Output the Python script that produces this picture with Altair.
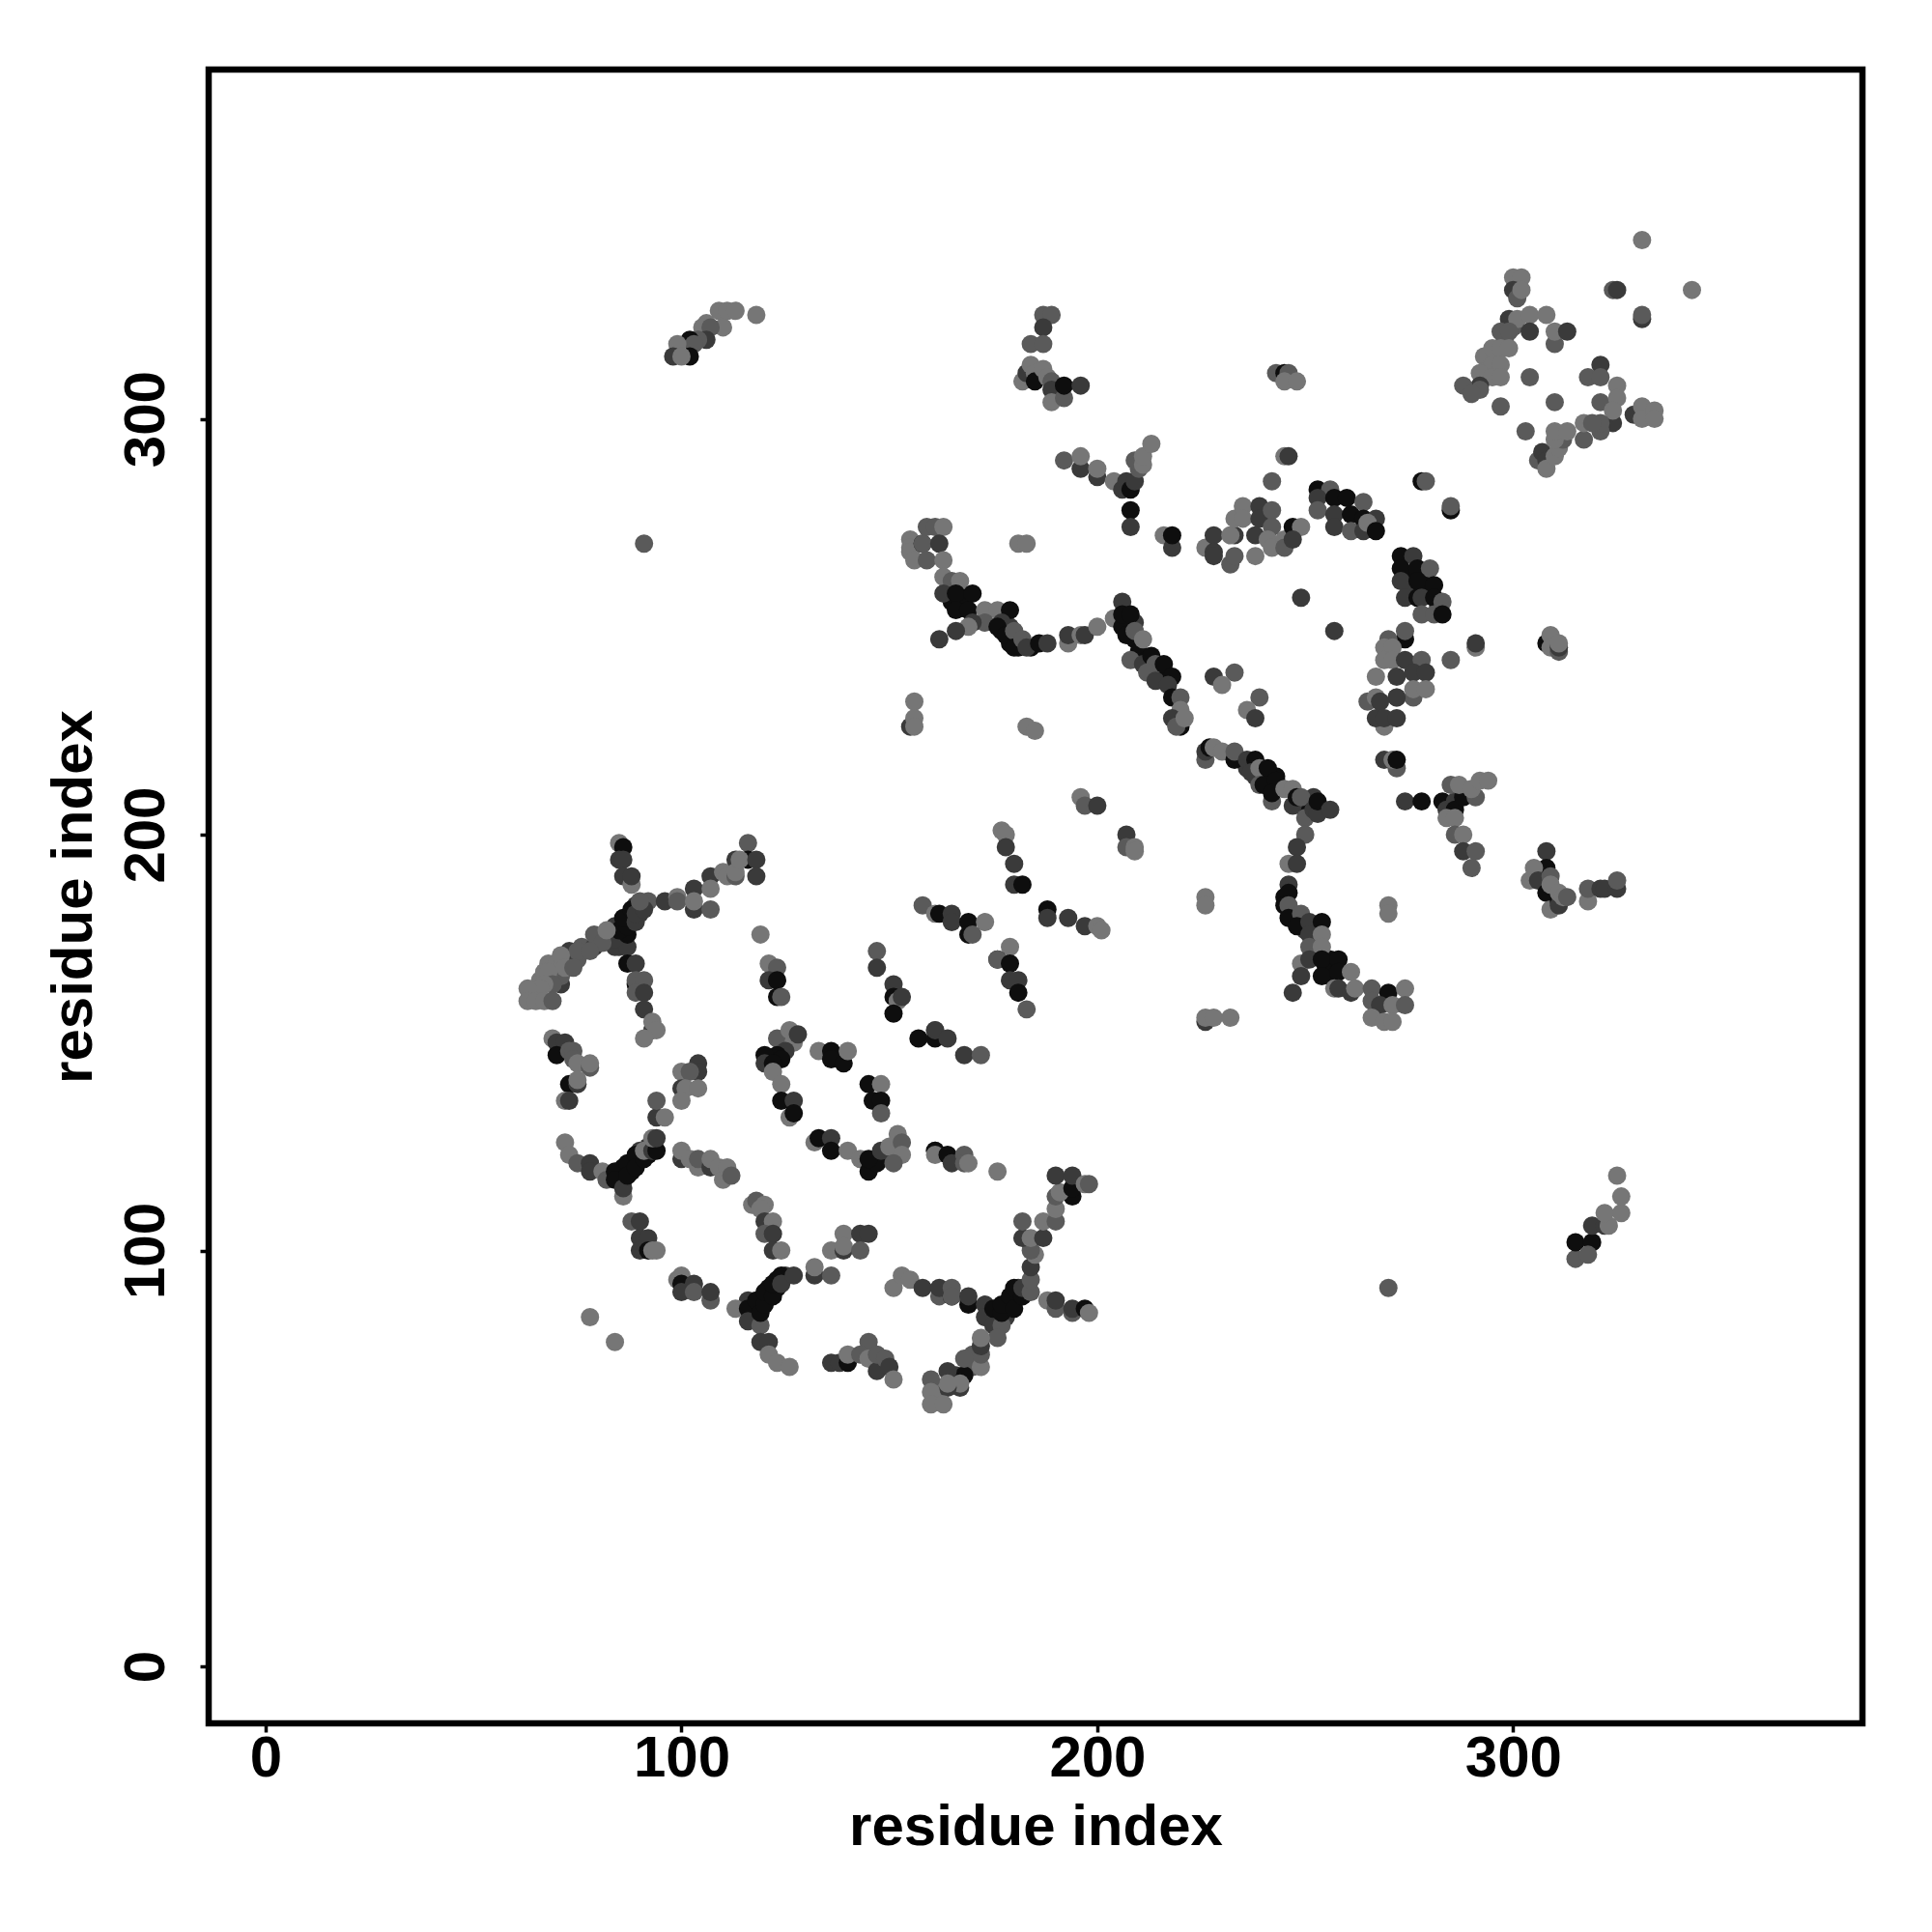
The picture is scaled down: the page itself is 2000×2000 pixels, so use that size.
import altair as alt
import pandas as pd

TONES = {1: "#767676", 2: "#5a5a5a", 3: "#3a3a3a", 4: "#0e0e0e"}
tick_values = [0, 100, 200, 300]

# (residue i, residue j, tone)
under_hub = [(85,175,4),(86,178,4),(87,180,4),(88,179,4),(89,183,3),(90,181,3),(84,178,3),(86,176,4),(85,173,3)]
under_v = [(117,85,4),(118,86,4),(119,88,4),(121,89,4),(121,91,4),(123,91,4),(123,93,4),(125,94,3),(116,88,3)]
under_arc = [(85,118,4),(86,120,4),(88,121,4),(88,119,4),(90,122,4),(90,124,3),(92,125,3),(92,123,4),(86,117,4)]
under_hub_right = [(176,85,4),(178,87,4),(179,86,4),(181,89,4),(181,91,3),(183,91,3),(178,84,3),(175,84,3),(174,85,4)]
under_band = [(165,256,4),(167,256,4),(168,257,4),(168,255,4),(177,249,4),(179,246,4),(181,245,4),(184,245,4),(179,250,3)]
under_chain = [(243,214,4),(241,213,3),(240,214,4),(242,212,3),(238,214,3),(236,216,3),(249,207,4),(251,207,4),(252,209,3)]
under_chain_down = [(255,168,4),(256,170,4),(256,166,4),(257,168,4),(245,185,4),(247,181,4),(249,179,4),(250,177,3),(252,178,4)]
under_dark_col = [(275,262,4),(279,258,4),(279,261,4),(275,259,3),(282,255,3)]
under_band_down = [(209,247,4),(210,244,4),(212,242,4),(213,240,4),(215,239,3),(216,237,4),(207,252,4),(209,251,3)]
under_light = [(64,161,1),(66,165,1),(68,169,1),(70,169,1),(75,170,2),(76,173,2),(293,315,1),(294,312,1),(296,315,1),(298,319,2),(300,322,2),
 (162,65,1),(162,67,1),(165,70,2),(170,72,2),(170,75,2),(166,70,3)]

core_upper_left = [(85,198,1),(86,197,4),(85,194,3),(86,194,3),(86,190,3),(88,188,1),(88,190,3),
 (92,184,2),(96,184,3),(99,185,1),(99,184,2),(103,187,3),(103,182,3),(103,184,1),(107,182,2),(107,190,3),(107,187,1),
 (110,191,1),(111,190,1),(113,194,3),(113,190,2),(113,191,1),(116,198,2),(116,194,4),(114,194,1),(118,194,3),(118,190,3)]
core_hub = [(84,173,3),(87,173,3),(83,177,3),(84,175,3),(87,176,4),(85,177,4),(87,178,4),(86,180,4),(89,179,3),
 (88,182,4),(89,181,3),(91,182,3),(90,184,2)]
core_down = [(87,169,4),(89,169,3),(89,164,4),(89,165,2),(91,165,2),(89,162,2),(91,162,3),(91,158,3),(93,153,3),(93,155,1),(94,153,1),(91,151,1)]
core_left = [(79,173,3),(79,176,2),(81,174,2),(82,177,1),(73,172,3),(75,172,2),(71,171,1),(78,172,2),(71,164,3),(71,166,2),(72,168,1),(74,168,2),
 (67,167,1),(68,167,1),(69,164,2),(67,164,1),(66,163,1),(63,163,1),(63,160,1),(65,160,1),(67,160,1),(69,160,2)]
left_small = [(69,151,1),(70,150,3),(72,150,3),(70,147,4),(73,148,2),(74,148,2),(74,146,2),(75,145,1),(78,144,2),(78,145,1),
 (73,140,4),(75,140,3),(75,141,1),(72,136,1),(73,136,3)]
left_mid = [(104,145,3),(104,143,3),(100,143,1),(102,143,2),(100,139,3),(101,139,1),(104,139,1),(100,136,1),(94,132,3),(94,136,2),(96,132,1)]
mid_a = [(119,176,1),(121,169,1),(123,168,2),(121,165,3),(123,165,4),(123,161,4),(124,161,2),
 (147,172,2),(147,168,3),(151,164,3),(151,161,4),(152,160,1),(153,161,3),(151,157,4),
 (157,151,4),(161,153,1),(161,151,4),(161,153,3),(164,151,3),(168,147,3),(172,147,2)]
mid_b = [(158,183,2),(161,181,1),(162,181,4),(165,181,3),(165,179,3),(169,179,4),(173,179,1),(169,176,4),(170,176,2),
 (177,201,1),(178,200,1),(178,197,3),(180,193,3),(180,188,3),(182,188,4),
 (188,182,4),(188,180,3),(193,180,3),(197,178,3),(200,178,1),(201,177,1),
 (207,200,3),(207,197,2),(209,197,1),(209,196,1),
 (179,173,1),(176,170,4),(176,170,2),(179,169,4),(179,165,3),(181,165,3),(181,162,4),(183,158,2)]
ring_top = [(123,151,2),(126,153,1),(127,150,1),(128,152,3),(125,148,3),(123,147,4),(120,147,4),(124,146,4),(120,145,3),(122,145,4),(122,143,1),(124,140,1),
 (124,136,4),(127,136,3),(126,132,1),(127,133,4),(133,148,1),(136,148,4),(136,146,4),(139,145,4),(140,148,1),
 (145,140,4),(148,140,1),(146,136,4),(148,136,4),(148,133,2)]
ring_bottom = [(132,126,1),(133,127,4),(136,127,3),(136,124,4),(140,124,1),(143,122,1),(149,123,3),(145,119,4),(147,121,4),(145,122,4),(148,124,3),(150,125,1),(152,128,1),(153,126,2),(153,123,1),(151,121,2)]
lower_arc = [(72,126,1),(73,123,1),(75,121,2),(78,121,3),(78,119,3),(81,119,1),(82,117,2),(86,113,1),(84,119,4),(84,117,4),(86,115,3),
 (87,121,4),(87,118,4),(89,123,4),(89,120,4),(91,122,4),(91,124,1),(93,124,3),(94,124,4),(93,127,1),(94,127,3)]
lower_mid = [(100,122,3),(100,124,1),(102,122,1),(104,120,1),(104,122,2),(107,120,3),(107,122,1),(109,120,1),(110,117,1),(111,120,1),(112,118,2),
 (117,111,1),(118,112,2),(120,111,1),(119,110,1),(120,107,3),(122,107,1),(120,104,2),(122,104,3),(122,100,3),(124,100,1),
 (88,107,2),(90,107,3),(90,103,3),(92,103,3),(90,100,3),(92,100,4),(93,100,1),(94,100,1)]
lower_low = [(99,93,1),(100,94,1),(100,92,4),(100,90,3),(103,92,3),(103,90,2),(107,88,2),(107,90,3),(113,86,1),
 (78,84,1),(84,78,1),(132,94,3),(132,96,1),(136,94,2),(139,104,1),(143,104,3),(145,104,3),(136,100,1),(139,100,3),(139,101,1),(143,100,2)]
v_left = [(116,86,4),(116,83,3),(118,88,4),(119,82,2),(119,85,4),(120,87,4),(120,90,4),(122,89,4),(122,92,4),(124,94,4),(124,92,3),(127,94,3),
 (119,78,3),(121,78,3),(121,75,1),(123,73,1),(126,72,1)]
bottom_row = [(136,73,3),(138,73,3),(140,73,4),(140,75,1),(145,78,2),(143,75,2),(145,74,1),(147,71,3),(147,75,2),(149,74,2),(150,72,3),(151,69,1)]
bottom_arm = [(151,91,1),(153,94,1),(155,93,1),(158,91,3),(162,89,2),(162,91,3),(165,89,4),(165,91,2),(165,89,2),(169,87,4),(169,89,3)]
hub_right = [(188,88,1),(190,86,2),(190,88,3),(194,85,2),(194,86,3),(197,86,4),(198,85,1),
 (173,87,3),(173,84,3),(175,82,3),(175,86,4),(177,82,2),(176,79,2),(177,85,4),(177,87,4),(179,89,4),(180,86,4),(180,91,4),(182,89,4),(182,91,3),
 (184,90,2),(184,93,2),(184,96,3),(185,99,1),(184,100,2)]
hub_up = [(182,103,3),(184,103,1),(187,103,3),(182,107,2),(187,107,1),(190,107,2),(190,110,1),(190,113,2),(194,113,4),(191,114,1),(190,118,3),(194,115,4),(194,118,3),(197,116,1),(198,116,2)]
hub_low = [(172,72,1),(172,75,2),(172,77,3),(172,79,1),(168,70,4),(168,74,2),(167,67,3),(167,68,1),(164,67,3),(164,71,3),(164,68,1),(160,69,2),(160,66,1),(160,63,1),(163,63,1)]
mid_row = [(161,124,2),(161,124,4),(161,123,1),(164,123,4),(165,121,3),(168,123,2),(168,121,2),(169,121,1),(176,119,1)]
top_left = [(118,325,1),(109,326,1),(111,326,1),(113,326,1),(110,322,1),(106,323,1),(105,322,1),(107,322,2),(106,319,3),(104,319,2),(102,319,4),(103,318,2),(99,318,1),(98,315,3),(102,315,4),(100,315,1)]
top_mid = [(187,325,2),(189,325,2),(187,322,3),(184,318,2),(187,318,2),
 (182,309,1),(183,311,3),(184,313,1),(185,311,1),(185,309,4),(187,312,1),(188,310,1),(189,309,2),(189,307,3),(189,304,1),(192,305,2),(192,308,4),(196,308,3)]
upper_row = [(192,290,2),(196,288,3),(196,291,1),(200,286,3),(200,288,1),(204,285,1),(206,283,3),(207,285,3),(208,283,4),(209,285,3),(210,288,2),(209,290,2),(211,289,1),(211,291,1),(213,294,1),(208,278,4),(208,274,3)]
band_left = [(155,271,1),(155,269,1),(155,268,1),(156,266,1),(158,270,4),(158,270,2),(159,266,2),(159,274,2),(161,274,2),(163,274,1),(162,270,3),(163,266,1),(181,270,1),(183,270,1),(216,272,1),(218,269,3),(218,272,4)]
band_main = [(163,262,1),(165,261,2),(167,261,1),(163,258,3),(166,258,4),(170,258,4),(166,254,4),(169,254,4),(173,254,1),(176,254,1),(179,254,4),(177,251,3),(173,251,2),(170,251,3),(169,250,1),(166,249,3),(162,247,3),
 (176,250,4),(178,248,4),(180,249,2),(180,245,4),(182,247,2),(183,245,3),(186,246,4),(188,246,3),
 (193,246,1),(193,248,3),(196,248,1),(197,248,3),(200,250,1)]
band_down = [(206,256,3),(204,252,1),(206,250,4),(206,253,4),(208,253,4),(207,248,4),(209,249,2),(211,247,1),(208,242,2),(211,241,3),(213,243,4),(214,241,2),(216,241,4),(212,239,2),(214,237,3),(218,238,4),(217,236,3),
 (218,233,4),(220,233,2),(220,230,1),(218,228,3),(220,226,4),(219,226,2),(221,228,1)]
scatter_a = [(228,238,3),(233,239,2),(230,236,1),(239,233,2),(236,230,1),(238,228,3),(156,232,1),(155,226,3),(156,228,1),(156,226,1),(183,226,1),(185,225,1),(196,209,1),(197,207,2),(200,207,3),
 (91,270,2),(270,91,2),(249,257,3),(257,249,3),(226,185,1),(226,183,1),(270,183,1),(270,181,1),(226,155,3),(226,156,1),(228,156,1),(232,156,1)]
mid_cluster = [(226,269,1),(228,272,3),(228,268,3),(228,267,3),(233,272,3),(232,272,1),(232,265,2),(233,267,2),(233,276,1),(235,279,1),(235,276,1),(239,279,3),(239,276,3),(242,278,2),
 (238,272,3),(242,274,2),(241,271,1),(242,269,1),(238,267,1),(245,271,1),(245,269,2),(247,274,4),(249,274,1),(247,271,3),(242,285,2),(245,291,1),(246,291,3),
 (243,311,2),(245,311,4),(246,311,2),(245,309,1),(248,309,1)]
dark_box = [(253,283,4),(256,283,2),(253,281,3),(253,278,2),(257,281,4),(260,281,4),(257,277,3),(261,277,4),(257,274,3),(261,273,2),(264,280,2),(264,276,4),(267,276,3),(264,273,3),(265,275,1),(267,273,4),
 (278,285,4),(279,285,2),(285,278,4),(285,279,2)]
dark_col = [(273,267,4),(276,267,3),(273,264,4),(273,261,3),(277,264,4),(280,264,2),(277,261,4),(281,260,4),(274,257,3),(277,257,4),(278,257,3),(281,257,4),(283,256,2),(278,253,2),(281,253,2),(283,253,4)]
right_cluster = [(274,247,4),(274,249,2),(270,247,2),(269,245,1),(271,245,1),(269,242,1),(271,242,1),(272,238,3),(274,242,3),(278,242,2),(276,239,3),(279,239,3),(267,238,1),
 (276,233,2),(276,235,1),(279,235,1),(272,233,1),(272,233,3),(265,232,2),(267,233,1),(268,232,3),(269,226,1),(267,228,3),(269,228,3),(272,228,3),
 (285,242,2),(291,245,1),(291,246,3),(308,246,4),(309,248,1),(309,245,1),(311,244,2),(311,245,3),(311,246,1),
 (269,218,3),(272,216,2),(271,218,1),(272,218,4),(274,208,3),(278,208,4)]
long_chain = [(226,218,2),(226,220,3),(227,221,4),(228,221,1),(230,220,1),(233,218,4),(233,220,2),(236,218,3),(238,218,4),(237,215,3),(239,216,1),(241,216,4),(239,212,2),(240,212,4),(243,213,4),(242,208,2),(242,210,4),
 (245,211,1),(247,211,1),(247,207,3),(248,209,4),(249,209,2),(250,204,2),(252,206,3),(253,205,3),(253,208,4),(256,206,3),(250,200,2)]
chain_down = [(248,197,3),(246,193,1),(248,193,3),(246,188,3),(246,186,4),(245,183,4),(246,183,2),(246,180,4),(249,181,2),(248,178,4),(251,179,3),(254,179,4),(251,176,3),(254,176,1),(251,173,2),(254,173,1),
 (249,169,1),(251,170,3),(249,166,3),(247,162,3),(254,170,4),(258,170,4),(254,166,4),(258,167,4),(257,163,1),(258,163,3),(261,162,3),(261,167,1),(262,163,1)]
chain_end = [(266,163,2),(270,162,4),(274,163,1),(266,160,2),(268,159,3),(271,159,1),(274,159,2),(266,156,1),(269,155,1),(271,155,1)]
right_arm = [(283,208,4),(284,206,3),(286,208,3),(286,206,4),(288,209,4),(285,212,2),(287,212,1),(284,204,1),(286,204,1),(291,209,2),(290,211,1),(292,213,1),(294,213,1),
 (286,200,2),(288,200,1),(288,196,3),(291,196,2),(290,192,2)]
lower_right_arm = [(308,196,3),(308,192,4),(305,192,1),(304,189,1),(306,189,3),(309,190,2),(308,186,4),(309,188,1),(309,182,1),(311,184,4),(311,183,3),(311,186,1),(312,185,1),(313,185,2),
 (318,184,1),(318,187,2),(321,187,3),(322,187,3),(325,187,3),(325,189,2)]
far_corner = [(331,343,1),(343,331,1),(324,331,2),(325,331,3),(331,324,3),(331,325,2)]
star_left = [(300,334,1),(302,334,1),(300,331,3),(301,329,2),(302,331,1),(299,324,3),(301,324,1),(304,325,1),(308,325,1),(304,321,3),(310,318,2),(310,321,1),(313,321,3),
 (297,321,2),(299,321,2),(295,317,1),(297,317,1),(299,317,1),(295,313,1),(297,313,1),(292,311,1),(295,310,1),(297,310,1),(292,308,3),(292,307,2),(288,308,2),(290,306,2)]
star_right = [(304,310,2),(297,303,2),(310,304,2),(303,297,2),(321,313,3),(318,310,2),(321,310,2),(321,304,2),(325,308,1),(325,305,1),(324,299,3),(324,302,1),
 (317,295,2),(317,299,1),(321,297,2),(321,299,2),(319,299,2),(329,301,3),(331,303,1),(331,300,1),(334,302,1),(334,300,1),
 (306,290,2),(307,292,3),(308,290,3),(308,288,1),(310,291,1),(311,293,1),(312,295,2),(310,295,1),(310,297,1),(313,297,1)]
bottom_right = [(315,98,2),(315,102,4),(319,102,4),(318,99,2),(319,106,3),(322,106,3),(323,106,1),(322,109,1),(326,109,1),(326,113,1),(325,118,1)]

clusters = [under_hub, under_v, under_arc, under_hub_right, under_band, under_chain, under_chain_down, under_dark_col,
            under_band_down, under_light,
            core_upper_left, core_hub, core_down, core_left, left_small, left_mid, mid_a, mid_b, ring_top, ring_bottom,
            lower_arc, lower_mid, lower_low, v_left, bottom_row, bottom_arm, hub_right, hub_up, hub_low, mid_row,
            top_left, top_mid, upper_row, band_left, band_main, band_down, scatter_a, mid_cluster, dark_box, dark_col,
            right_cluster, long_chain, chain_down, chain_end, right_arm, lower_right_arm, far_corner, star_left,
            star_right, bottom_right]

rows = [{"i": a, "j": b, "tone": TONES[c]} for cl in clusters for a, b, c in cl]
df = pd.DataFrame(rows)

FONT = "Liberation Sans"
x_axis = alt.Axis(values=tick_values, grid=False, domain=False, tickSize=9, tickWidth=3.5, tickColor="black",
                  labelFont=FONT, labelFontSize=60, labelFontWeight="bold", labelColor="black", labelPadding=-2,
                  labelFlush=False, labelOverlap=False, title="residue index", titleFont=FONT, titleFontSize=60,
                  titleFontWeight="bold", titleColor="black", titlePadding=12)
y_axis = alt.Axis(values=tick_values, grid=False, domain=False, tickSize=9, tickWidth=3.5, tickColor="black",
                  labelFont=FONT, labelFontSize=60, labelFontWeight="bold", labelColor="black", labelPadding=25,
                  labelAngle=270, labelAlign="center", labelBaseline="bottom", labelFlush=False, labelOverlap=False,
                  title="residue index", titleFont=FONT, titleFontSize=60, titleFontWeight="bold", titleColor="black",
                  titlePadding=14)

chart = (
    alt.Chart(df)
    .mark_circle(size=360, opacity=1)
    .encode(
        x=alt.X("i:Q", axis=x_axis, scale=alt.Scale(domain=[-13.7, 384], nice=False, zero=False)),
        y=alt.Y("j:Q", axis=y_axis, scale=alt.Scale(domain=[-13.7, 384], nice=False, zero=False)),
        color=alt.Color("tone:N", scale=None),
    )
    .properties(width=1712, height=1712, autosize=alt.AutoSizeParams(type="none"),
                padding={"left": 208, "top": 64, "right": 20, "bottom": 190}, background="white")
    .configure_view(stroke="black", strokeWidth=6.5)
)
chart.save("out.html", embed_options={"renderer": "svg", "actions": False})
